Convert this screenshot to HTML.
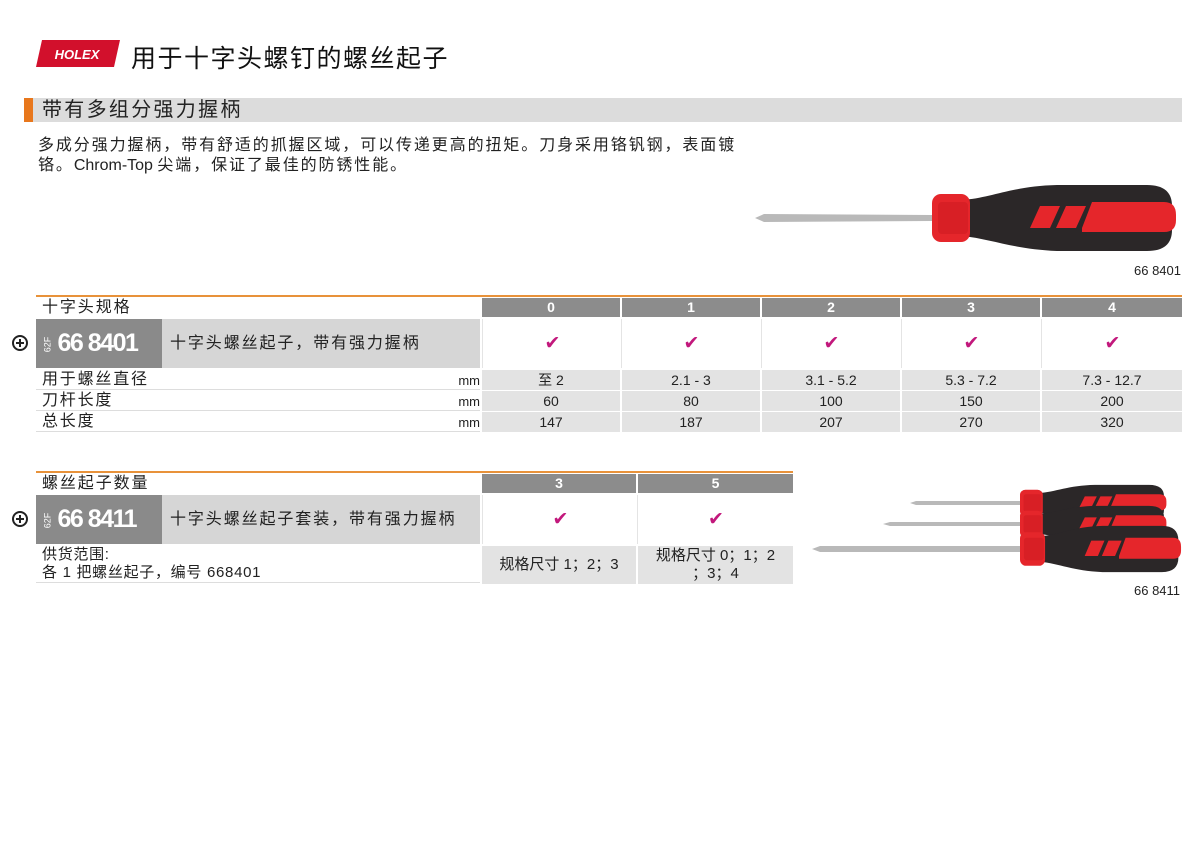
<!DOCTYPE html>
<html><head><meta charset="utf-8"><style>
body{margin:0;width:1198px;height:845px;background:#fff;position:relative;overflow:hidden;font-family:"Liberation Sans","Noto Sans CJK SC",sans-serif;color:#222}
.a{position:absolute}
.hd{position:absolute;background:#8c8c8c;color:#fff;font-weight:bold;font-size:14px;text-align:center;line-height:19px;height:19px}
.ck{position:absolute;background:#fff;border-left:1px solid #e4e4e4;color:#c2187c;font-size:19px;text-align:center}
.dc{position:absolute;background:#e3e3e3;font-size:14px;text-align:center;height:20px;line-height:20px;color:#222}
.lb{position:absolute;font-size:16px;letter-spacing:1.8px;left:42px;line-height:20px;height:20px;width:438px;border-bottom:1px solid #ddd}
.mm{position:absolute;right:0;top:1px;font-size:13px;letter-spacing:0}
.num{position:absolute;background:#8a8a8a;color:#fff;font-weight:bold;font-size:25px;letter-spacing:-1.5px}
.num small{font-size:9px;font-weight:normal;display:inline-block;transform:rotate(-90deg);margin-right:2px;vertical-align:middle;letter-spacing:0}
.cn{letter-spacing:1.9px}
.plus{position:absolute;width:16px;height:16px;border:2px solid #222;border-radius:50%;box-sizing:border-box}
.plus:before{content:"";position:absolute;left:2px;right:2px;top:5px;height:2px;background:#222}
.plus:after{content:"";position:absolute;top:2px;bottom:2px;left:5px;width:2px;background:#222}
</style></head><body>
<svg class="a" style="left:36px;top:40px" width="84" height="28"><polygon points="6,0 84,0 78,27 0,27" fill="#d2102c"/><text x="41" y="19" fill="#fff" font-family="Liberation Sans" font-weight="bold" font-style="italic" font-size="13" text-anchor="middle">HOLEX</text></svg>
<div class="a" style="left:131px;top:39px;font-size:25px;letter-spacing:1.5px;color:#111">用于十字头螺钉的螺丝起子</div>
<div class="a" style="left:24px;top:98px;width:9px;height:24px;background:#e8771c"></div>
<div class="a" style="left:33px;top:98px;width:1149px;height:24px;background:#dcdcdc"></div>
<div class="a" style="left:42px;top:97px;font-size:20px;letter-spacing:2.3px;line-height:26px;color:#222">带有多组分强力握柄</div>
<div class="a" style="left:38px;top:136px;font-size:16px;letter-spacing:1.9px;line-height:20px;width:760px;color:#222">多成分强力握柄，带有舒适的抓握区域，可以传递更高的扭矩。刀身采用铬钒钢，表面镀<br><span style="letter-spacing:1.9px">铬。</span><span style="letter-spacing:0">Chrom-Top </span>尖端，保证了最佳的防锈性能。</div>

<svg class="a" style="left:0;top:0" width="1198" height="845">
<defs>
<g id="h">
<path d="M30,-18 C60,-20 80,-32 125,-33 L215,-33 Q240,-33 240,-12 L240,12 Q240,33 215,33 L125,33 C80,31 60,21 30,18 Z" fill="#2b2728"/>
<rect x="0" y="-24" width="38" height="48" rx="9" fill="#e5262b"/>
<rect x="6" y="-16" width="30" height="32" rx="4" fill="#d81f25"/>
<polygon points="98,10 108,-12 128,-12 118,10" fill="#e5262b"/>
<polygon points="124,10 134,-12 154,-12 144,10" fill="#e5262b"/>
<path d="M150,10 L160,-16 L232,-16 Q244,-16 244,-3 L244,2 Q244,14 232,14 L150,14 Z" fill="#e5262b"/>
</g>
</defs>
<polygon points="755,218 764,214 932,215 932,221 764,222" fill="#b9b9b9"/>
<use href="#h" transform="translate(932,218)"/>
<polygon points="910,503 916,501 1022,501 1022,505 916,505" fill="#b9b9b9"/>
<polygon points="883,524 890,522 1022,522 1022,526 890,526" fill="#b9b9b9"/>
<use href="#h" transform="translate(1020,503) scale(0.6,0.55)"/>
<use href="#h" transform="translate(1020,524) scale(0.6,0.55)"/>
<polygon points="812,549 820,546 1022,546 1022,552 820,552" fill="#b9b9b9"/>
<use href="#h" transform="translate(1020,549) scale(0.66,0.7)"/>
</svg>
<div class="a" style="left:1134px;top:263px;font-size:13px">66 8401</div>
<div class="a" style="left:1134px;top:583px;font-size:13px">66 8411</div>

<!-- table 1 -->
<div class="a" style="left:36px;top:295px;width:1146px;height:2px;background:#e8923a"></div>
<div class="a cn" style="left:42px;top:298px;font-size:16px;line-height:20px">十字头规格</div>
<div class="hd" style="left:482px;top:298px;width:138px">0</div>
<div class="hd" style="left:622px;top:298px;width:138px">1</div>
<div class="hd" style="left:762px;top:298px;width:138px">2</div>
<div class="hd" style="left:902px;top:298px;width:138px">3</div>
<div class="hd" style="left:1042px;top:298px;width:140px">4</div>
<div class="plus" style="left:12px;top:335px"></div>
<div class="num" style="left:36px;top:319px;width:126px;height:49px;line-height:49px;padding-left:4px;box-sizing:border-box"><small>62F</small>66 8401</div>
<div class="a cn" style="left:162px;top:319px;width:318px;height:49px;background:#d6d6d6;font-size:16px;line-height:49px;padding-left:8px;box-sizing:border-box">十字头螺丝起子，带有强力握柄</div>
<div class="ck" style="left:482px;top:319px;width:139px;height:49px;line-height:49px">✔</div>
<div class="ck" style="left:621px;top:319px;width:139px;height:49px;line-height:49px">✔</div>
<div class="ck" style="left:761px;top:319px;width:139px;height:49px;line-height:49px">✔</div>
<div class="ck" style="left:901px;top:319px;width:139px;height:49px;line-height:49px">✔</div>
<div class="ck" style="left:1041px;top:319px;width:141px;height:49px;line-height:49px">✔</div>

<div class="lb" style="left:36px;padding-left:6px;box-sizing:border-box;width:444px;top:370px">用于螺丝直径<span class="mm">mm</span></div>
<div class="lb" style="left:36px;padding-left:6px;box-sizing:border-box;width:444px;top:391px">刀杆长度<span class="mm">mm</span></div>
<div class="lb" style="left:36px;padding-left:6px;box-sizing:border-box;width:444px;top:412px">总长度<span class="mm">mm</span></div>
<div class="dc" style="left:482px;top:370px;width:138px">至 2</div>
<div class="dc" style="left:622px;top:370px;width:138px">2.1 - 3</div>
<div class="dc" style="left:762px;top:370px;width:138px">3.1 - 5.2</div>
<div class="dc" style="left:902px;top:370px;width:138px">5.3 - 7.2</div>
<div class="dc" style="left:1042px;top:370px;width:140px">7.3 - 12.7</div>
<div class="dc" style="left:482px;top:391px;width:138px">60</div>
<div class="dc" style="left:622px;top:391px;width:138px">80</div>
<div class="dc" style="left:762px;top:391px;width:138px">100</div>
<div class="dc" style="left:902px;top:391px;width:138px">150</div>
<div class="dc" style="left:1042px;top:391px;width:140px">200</div>
<div class="dc" style="left:482px;top:412px;width:138px">147</div>
<div class="dc" style="left:622px;top:412px;width:138px">187</div>
<div class="dc" style="left:762px;top:412px;width:138px">207</div>
<div class="dc" style="left:902px;top:412px;width:138px">270</div>
<div class="dc" style="left:1042px;top:412px;width:140px">320</div>

<!-- table 2 -->
<div class="a" style="left:36px;top:471px;width:757px;height:2px;background:#e8923a"></div>
<div class="a cn" style="left:42px;top:474px;font-size:16px;line-height:20px">螺丝起子数量</div>
<div class="hd" style="left:482px;top:474px;width:154px">3</div>
<div class="hd" style="left:638px;top:474px;width:155px">5</div>
<div class="plus" style="left:12px;top:511px"></div>
<div class="num" style="left:36px;top:495px;width:126px;height:49px;line-height:49px;padding-left:4px;box-sizing:border-box"><small>62F</small>66 8411</div>
<div class="a cn" style="left:162px;top:495px;width:318px;height:49px;background:#d6d6d6;font-size:16px;line-height:49px;padding-left:8px;box-sizing:border-box">十字头螺丝起子套装，带有强力握柄</div>
<div class="ck" style="left:482px;top:495px;width:155px;height:49px;line-height:49px">✔</div>
<div class="ck" style="left:637px;top:495px;width:156px;height:49px;line-height:49px">✔</div>
<div class="a" style="left:36px;top:546px;width:444px;height:37px;border-bottom:1px solid #ddd;font-size:15px;line-height:18px;padding-left:6px;box-sizing:border-box;letter-spacing:0.7px">供货范围:<br>各 1 把螺丝起子，编号 668401</div>
<div class="dc" style="left:482px;top:546px;width:154px;height:38px;line-height:38px;font-size:15px">规格尺寸 1；2；3</div>
<div class="dc" style="left:638px;top:546px;width:155px;height:38px;line-height:18px;font-size:15px;padding-top:1px;box-sizing:border-box">规格尺寸 0；1；2<br>；3；4</div>
</body></html>
